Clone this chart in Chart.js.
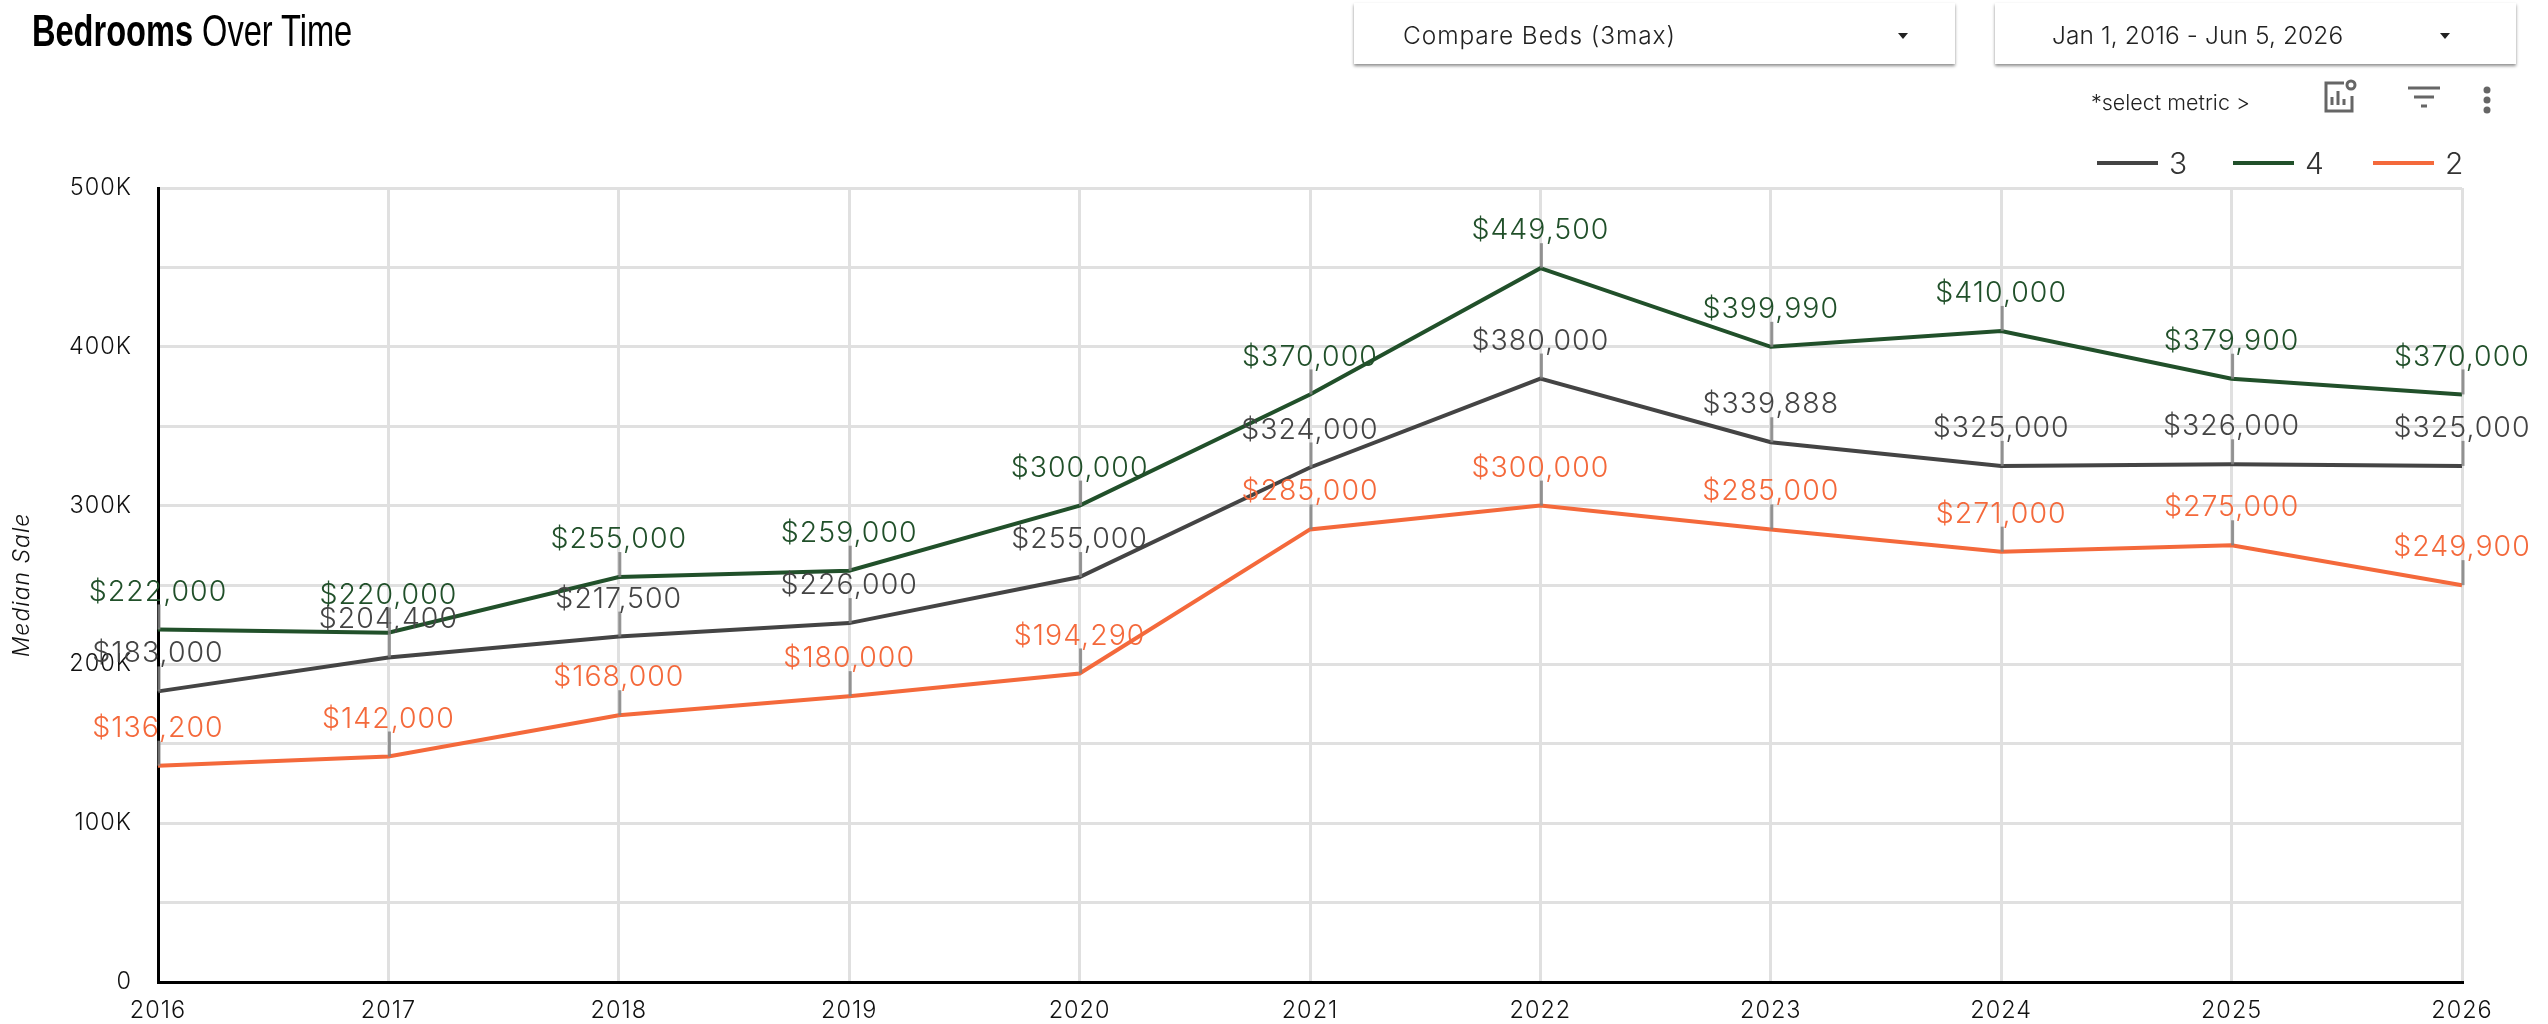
<!DOCTYPE html>
<html>
<head>
<meta charset="utf-8">
<title>Bedrooms Over Time</title>
<script src="https://cdn.jsdelivr.net/npm/chart.js@4/dist/chart.umd.min.js"></script>
<style>
	html, body { margin: 0; padding: 0; background: #fff; }
	#page { position: relative; width: 2548px; height: 1024px; overflow: hidden; font-family: Inter, sans-serif; font-weight: 300; }
	#chart { position: absolute; left: 0; top: 0; }
	.title { position: absolute; left: 32px; top: 6px; font: 44px "Liberation Sans Narrow", sans-serif; color: #000; white-space: nowrap; transform-origin: left top; transform: scaleX(0.74); }
	.title b { font-weight: 700; }
	.drop { position: absolute; top: 3px; height: 61px; background: #fff; box-shadow: 0 2px 3px rgba(0,0,0,.45); font-size: 24.5px; color: #222; line-height: 64px; white-space: nowrap; }
	.drop span { position: absolute; top: 0; }
	.drop i { position: absolute; top: 30px; width: 0; height: 0; border-left: 5px solid transparent; border-right: 5px solid transparent; border-top: 6px solid #222; }
	.metric { position: absolute; left: 2091px; top: 89px; font-size: 21.5px; color: #222; white-space: nowrap; }
	.legend { position: absolute; left: 0; top: 144px; height: 38px; width: 2462px; }
	.legend div { position: absolute; top: 0; font-size: 30px; line-height: 38px; color: #333; }
	.legend s { position: absolute; top: 17px; height: 4px; width: 61px; }
	svg { position: absolute; }
</style>
</head>
<body>
<div id="page">
	<canvas id="chart" width="2548" height="1024"></canvas>
	<div class="title"><b>Bedrooms</b> Over Time</div>
	<div class="drop" style="left:1354px;width:601px"><span style="left:49px;letter-spacing:.9px">Compare Beds (3max)</span><i style="left:544px"></i></div>
	<div class="drop" style="left:1995px;width:521px"><span style="left:57px;letter-spacing:.1px">Jan 1, 2016 - Jun 5, 2026</span><i style="left:445px"></i></div>
	<div class="metric">*select metric &gt;</div>
	<svg style="left:2322px;top:78px" width="36" height="36" viewBox="0 0 36 36" fill="none" stroke="#666" stroke-width="3">
		<path d="M22 5H4v28h26V18"/><path d="M10 27v-8M16 27V13M22 27v-6"/><circle cx="29" cy="7" r="4"/>
	</svg>
	<svg style="left:2406px;top:84px" width="36" height="28" viewBox="0 0 36 28" fill="none" stroke="#666" stroke-width="3">
		<path d="M2 4h32M8 13h20M15 22h6"/>
	</svg>
	<svg style="left:2480px;top:84px" width="14" height="32" viewBox="0 0 14 32" fill="#666">
		<circle cx="7" cy="6" r="3.5"/><circle cx="7" cy="16" r="3.5"/><circle cx="7" cy="26" r="3.5"/>
	</svg>
	<div class="legend" id="legend"></div>
</div>
<script>
(function () {
	"use strict";

	const years = ['2016', '2017', '2018', '2019', '2020', '2021', '2022', '2023', '2024', '2025', '2026'];
	const beds3 = [183000, 204400, 217500, 226000, 255000, 324000, 380000, 339888, 325000, 326000, 325000];
	const beds4 = [222000, 220000, 255000, 259000, 300000, 370000, 449500, 399990, 410000, 379900, 370000];
	const beds2 = [136200, 142000, 168000, 180000, 194290, 285000, 300000, 285000, 271000, 275000, 249900];

	const fontName = 'Inter, sans-serif';

	// value labels with the little gray stem going down to the point
	const valueLabels = {
		id: 'valueLabels',
		beforeDraw: function (chart) {
			// the original font runs wider than Inter
			chart.ctx.letterSpacing = '1px';
		},
		afterDatasetsDraw: function (chart) {
			const ctx = chart.ctx;
			chart.data.datasets.forEach(function (ds, i) {
				chart.getDatasetMeta(i).data.forEach(function (pt, j) {
					ctx.save();
					ctx.strokeStyle = 'rgba(130,130,130,0.85)';
					ctx.lineWidth = 3;
					ctx.beginPath();
					ctx.moveTo(pt.x + 1, pt.y - 25);
					ctx.lineTo(pt.x + 1, pt.y);
					ctx.stroke();
					ctx.fillStyle = ds.borderColor;
					ctx.font = '300 28.5px ' + fontName;
					ctx.textAlign = 'center';
					ctx.textBaseline = 'middle';
					ctx.fillText('$' + ds.data[j].toLocaleString('en-US'), pt.x, pt.y - 37.5);
					ctx.restore();
				});
			});
		}
	};

	const config = {
		type: 'line',
		data: {
			labels: years,
			datasets: [
				{ label: '3', data: beds3, borderColor: '#444444' },
				{ label: '4', data: beds4, borderColor: '#21502a' },
				{ label: '2', data: beds2, borderColor: '#f4693b' }
			]
		},
		options: {
			responsive: false,
			animation: false,
			layout: { padding: { top: 188, right: 86, bottom: 0, left: 0 } },
			elements: {
				line: { borderWidth: 4, tension: 0, fill: false },
				point: { radius: 0 }
			},
			plugins: { legend: { display: false }, tooltip: { enabled: false } },
			scales: {
				x: {
					offset: false,
					afterFit: function (scale) { scale.height = 42; },
					grid: { color: '#e0e0e0', lineWidth: 3, drawTicks: false },
					border: { color: '#000', width: 3 },
					ticks: { color: '#111', font: { family: fontName, size: 23.5, weight: 300 }, padding: 15, maxRotation: 0, autoSkip: false }
				},
				y: {
					min: 0,
					max: 500000,
					afterFit: function (scale) { scale.width = 158; },
					title: { display: true, text: 'Median Sale', color: '#111', font: { family: fontName, size: 23, style: 'italic', weight: 300 }, padding: { top: 8, bottom: 0 } },
					grid: { color: '#e0e0e0', lineWidth: 3, drawTicks: false },
					border: { color: '#000', width: 3 },
					ticks: {
						stepSize: 50000,
						autoSkip: false,
						padding: 26,
						color: '#111',
						font: { family: fontName, size: 23.5, weight: 300 },
						callback: function (v) {
							if (v === 0) return '0';
							return v % 100000 === 0 ? (v / 1000) + 'K' : '';
						}
					}
				}
			}
		},
		plugins: [valueLabels]
	};

	const myChart = new Chart(document.getElementById('chart'), config);

	// html legend, spacing in the original is wider than chart.js gives
	const legendLeft = [2097, 2233, 2373];
	myChart.data.datasets.forEach(function (ds, i) {
		const item = document.createElement('div');
		item.style.left = legendLeft[i] + 'px';
		item.innerHTML = '<s style="background:' + ds.borderColor + '"></s><span style="margin-left:72px">' + ds.label + '</span>';
		document.getElementById('legend').appendChild(item);
	});
})();
</script>
</body>
</html>
